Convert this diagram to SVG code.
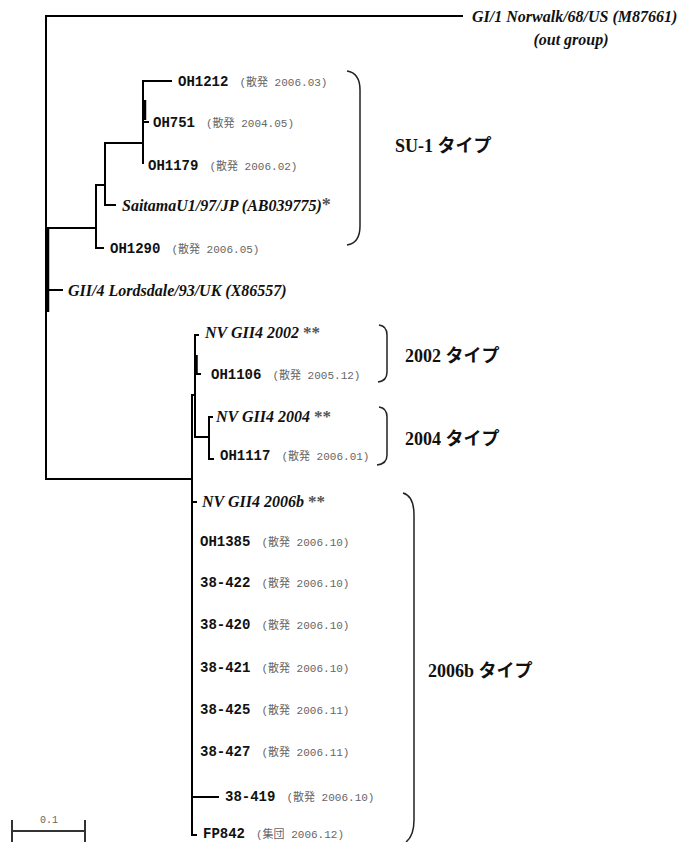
<svg xmlns="http://www.w3.org/2000/svg" width="688" height="842" viewBox="0 0 688 842">
<style>
.br{fill:none;stroke:#000;stroke-width:2;stroke-linecap:square}
.th{fill:none;stroke:#000;stroke-width:3.5}
.bk{fill:none;stroke:#222;stroke-width:1.5}
.n{font-family:"Liberation Mono","Noto Sans CJK JP",monospace;font-weight:bold;font-size:14px;fill:#111}
.a{font-family:"Liberation Mono","Noto Sans CJK JP",monospace;font-weight:normal;font-size:11px;fill:#666}
.it{font-family:"Liberation Serif","Noto Sans CJK JP",serif;font-weight:bold;font-style:italic;font-size:16px;fill:#111}
.st{fill:#555;font-style:normal}
.ty{font-family:"Liberation Serif","Noto Sans CJK JP",serif;font-weight:bold;font-size:18px;fill:#111}
.sc{font-family:"Liberation Mono",monospace;font-size:10px;fill:#666}
</style>
<g id="connectors">
<path class="br" d="M462,16 H46 V479 H192"/>
<path class="th" d="M47.5,228 V312"/>
<path class="br" d="M47,228 H96 M96,185 V248 H103 M96,185 H105 V143 M105,143 V205 H115 M105,143 H143 M143,81 V163 M143,81 H171 M143,122 H148 M47,290 H62"/>
<path class="th" d="M144.5,100 V120"/>
<path class="br" d="M192,395 V835 M192,395 H195 M195,335 V437 M195,335 H198 M195,374 H200 M195,437 H209 M209,417 V459 H213 M209,417 H212"/>
<path class="th" d="M196,355 V375"/>
<path class="br" d="M192,502 H196 M192,835 H196 M192,797 H218"/>
</g>
<g id="brackets">
<path class="bk" d="M347,71 Q360,73 360,90 L360,226 Q360,243 347,245"/>
<path class="bk" d="M379,325 Q387,326 387,335 L387,372 Q387,381 378,382"/>
<path class="bk" d="M379,407 Q387,408 387,417 L387,455 Q387,464 377,465"/>
<path class="bk" d="M403,493 Q414,496 414,515 L414,820 Q414,836 406,842"/>
</g>
<g id="outgroup">
<text class="it" x="472" y="22" font-size="16.5">GI/1 Norwalk/68/US (M87661)</text>
<text class="it" x="571" y="45" text-anchor="middle">(out group)</text>
</g>
<g id="OH1212"><text x="178" y="86"><tspan class="n">OH1212</tspan><tspan class="a" dx="11">(散発 2006.03)</tspan></text></g>
<g id="OH751"><text x="153" y="127"><tspan class="n">OH751</tspan><tspan class="a" dx="11">(散発 2004.05)</tspan></text></g>
<g id="OH1179"><text x="148" y="170"><tspan class="n">OH1179</tspan><tspan class="a" dx="11">(散発 2006.02)</tspan></text></g>
<g id="SaitamaU1"><text class="it" x="122" y="211" font-size="16.5">SaitamaU1/97/JP (AB039775)<tspan class="st" font-size="18">*</tspan></text></g>
<g id="OH1290"><text x="110" y="253"><tspan class="n">OH1290</tspan><tspan class="a" dx="11">(散発 2006.05)</tspan></text></g>
<g id="Lordsdale"><text class="it" x="68" y="296">GII/4 Lordsdale/93/UK (X86557)</text></g>
<g id="NV2002"><text class="it" x="205" y="338">NV GII4 2002 <tspan class="st" font-size="17">**</tspan></text></g>
<g id="OH1106"><text x="211" y="379"><tspan class="n">OH1106</tspan><tspan class="a" dx="11">(散発 2005.12)</tspan></text></g>
<g id="NV2004"><text class="it" x="216" y="422">NV GII4 2004 <tspan class="st" font-size="17">**</tspan></text></g>
<g id="OH1117"><text x="220" y="460"><tspan class="n">OH1117</tspan><tspan class="a" dx="11">(散発 2006.01)</tspan></text></g>
<g id="NV2006b"><text class="it" x="202" y="507">NV GII4 2006b <tspan class="st" font-size="17">**</tspan></text></g>
<g id="OH1385"><text x="200" y="546"><tspan class="n">OH1385</tspan><tspan class="a" dx="11">(散発 2006.10)</tspan></text></g>
<g id="n38-422"><text x="200" y="587"><tspan class="n">38-422</tspan><tspan class="a" dx="11">(散発 2006.10)</tspan></text></g>
<g id="n38-420"><text x="200" y="629"><tspan class="n">38-420</tspan><tspan class="a" dx="11">(散発 2006.10)</tspan></text></g>
<g id="n38-421"><text x="200" y="672"><tspan class="n">38-421</tspan><tspan class="a" dx="11">(散発 2006.10)</tspan></text></g>
<g id="n38-425"><text x="200" y="714"><tspan class="n">38-425</tspan><tspan class="a" dx="11">(散発 2006.11)</tspan></text></g>
<g id="n38-427"><text x="200" y="756"><tspan class="n">38-427</tspan><tspan class="a" dx="11">(散発 2006.11)</tspan></text></g>
<g id="n38-419"><text x="225" y="801"><tspan class="n">38-419</tspan><tspan class="a" dx="11">(散発 2006.10)</tspan></text></g>
<g id="FP842"><text x="203" y="838"><tspan class="n">FP842</tspan><tspan class="a" dx="11">(集団 2006.12)</tspan></text></g>
<g id="labels">
<text class="ty" x="395" y="152">SU-1 タイプ</text>
<text class="ty" x="405" y="362" font-size="17">2002 タイプ</text>
<text class="ty" x="405" y="445" font-size="17">2004 タイプ</text>
<text class="ty" x="428" y="677">2006b タイプ</text>
</g>
<g id="scale">
<path d="M12,831 H85 M12,820 V842 M85,820 V842" fill="none" stroke="#333" stroke-width="2"/>
<text class="sc" x="49" y="823" text-anchor="middle">0.1</text>
</g>
</svg>
